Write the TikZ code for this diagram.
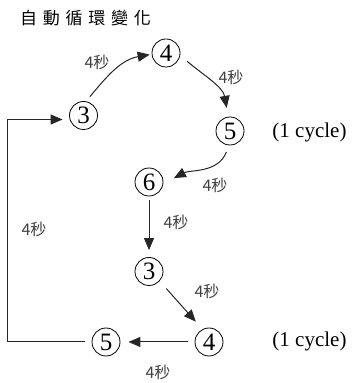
\documentclass[tikz,border=0pt]{standalone}
\usepackage{fontspec}
\setmainfont{Liberation Serif}
\newfontfamily\cjk{Noto Sans CJK TC}
\usetikzlibrary{arrows.meta}

\begin{document}
\begin{tikzpicture}[x=1pt,y=1pt,
  num/.style={circle,draw,line width=0.8pt,minimum size=28pt,inner sep=0pt,font=\fontsize{25}{25}\selectfont},
  sec/.style={text=black!75,font=\cjk\fontsize{16}{16}\selectfont},
  cyc/.style={font=\fontsize{21}{21}\selectfont},
  arr/.style={-{Triangle[length=12pt,width=10pt]},line width=1pt,black!85}]
\useasboundingbox (0,0) rectangle (354,383);
\node (title) at (85.5,364.5) {\cjk\fontsize{17}{17}\selectfont 自\kern5.8pt 動\kern5.8pt 循\kern5.8pt 環\kern5.8pt 變\kern5.8pt 化};
\foreach \n/\x/\y/\d in {s1/83.5/267.5/3, s2/166/330/4, s3/230/252/5, s4/149/201/6, s5/149/111.5/3, s6/209/41/4, s7/106/41/5}
\node[num] (\n) at (\x,\y) {\d};
\foreach \x/\y [count=\i] in {97/321, 231/306, 215/198, 176/161, 207/92, 158/11, 34/154}
\node[sec] (t\i) at (\x,\y) {4秒};
\node[cyc] (c1) at (309.5,251) {(1 cycle)};
\node[cyc] (c2) at (309.5,42) {(1 cycle)};
\draw[arr,shorten <=6pt,shorten >=2pt] (s1.80) to[out=50,in=190] (s2.185);
\draw[arr,shorten <=9pt,shorten >=9pt] (s2.-10) to[out=-40,in=100] (s3.97);
\draw[arr,shorten <=7pt,shorten >=12pt] (s3.-95) to[out=-110,in=28] (s4.-7);
\draw[arr,shorten <=4pt,shorten >=7pt] (s4) -- (s5);
\draw[arr,shorten <=10pt,shorten >=10pt] (s5.-42) -- (s6.117);
\draw[arr,shorten <=7pt,shorten >=8pt] (s6) -- (s7);
%\draw[arr] (s7.west) -- (s1.west);
\draw[arr,shorten <=7pt,shorten >=6.5pt] (s7.west) -- ++(-84.5,0) |- ([yshift=-4pt]s1.west);
\end{tikzpicture}
\end{document}
